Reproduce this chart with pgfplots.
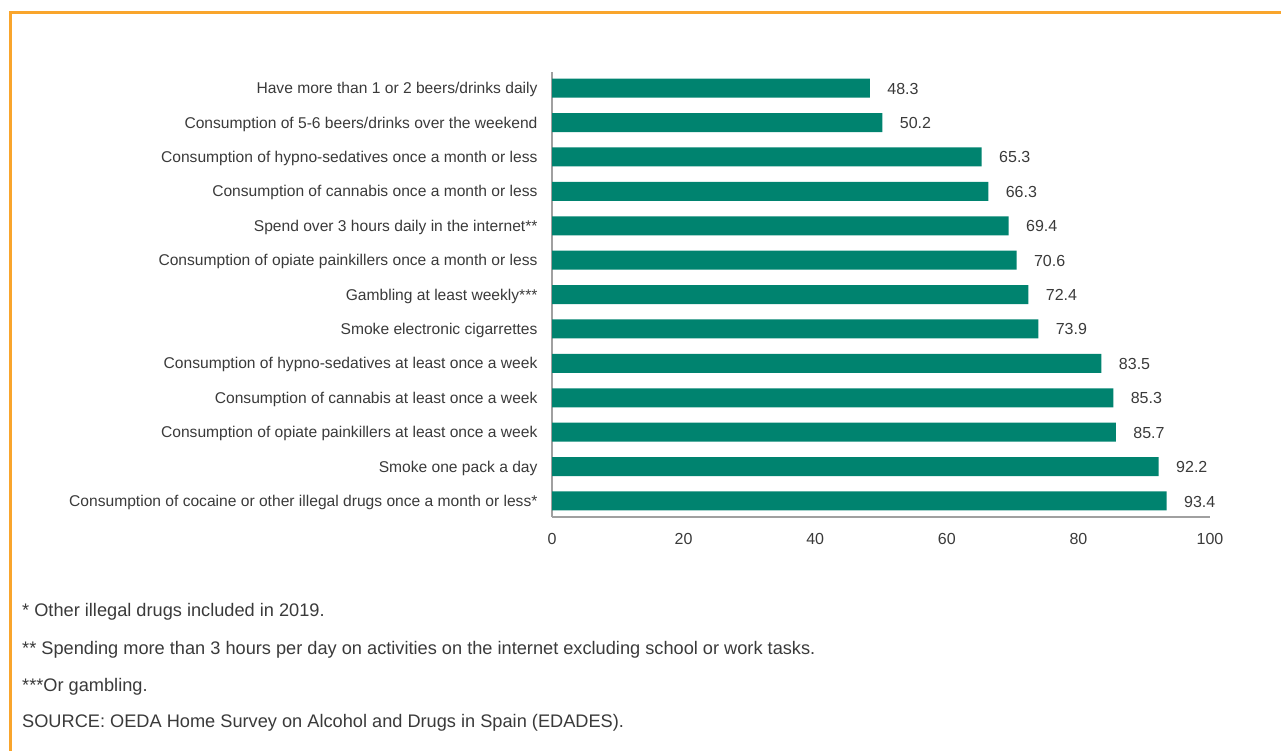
\documentclass[border=0pt]{standalone}
\usepackage{pgfplots}
\pgfplotsset{compat=1.18}
\usepackage{fontspec}
\setmainfont{Liberation Sans}
\definecolor{barteal}{HTML}{00836F}
\definecolor{txt}{HTML}{3A3A3A}
\definecolor{axgrey}{HTML}{A0A0A0}
\definecolor{frameorange}{HTML}{F9A52C}
\begin{document}
\begin{tikzpicture}[x=1pt,y=1pt]
\useasboundingbox (0,0) rectangle (1281,751);
\draw[frameorange, line width=3pt] (10.5,0) -- (10.5,738) -- (1281,738);
\begin{axis}[
  at={(552pt,234pt)}, anchor=south west,
  scale only axis, width=658pt, height=445pt,
  xmin=0, xmax=100, ymin=-0.465, ymax=12.47,
  xbar, bar width=19pt,
  axis x line*=bottom, axis y line*=left,
  axis line style={axgrey, line width=2pt, -},
  xtick={0,20,40,60,80,100},
  ytick={0,...,12},
  yticklabels={
    Consumption of cocaine or other illegal drugs once a month or less*,
    Smoke one pack a day,
    Consumption of opiate painkillers at least once a week,
    Consumption of cannabis at least once a week,
    Consumption of hypno-sedatives at least once a week,
    Smoke electronic cigarrettes,
    Gambling at least weekly***,
    Consumption of opiate painkillers once a month or less,
    Spend over 3 hours daily in the internet**,
    Consumption of cannabis once a month or less,
    Consumption of hypno-sedatives once a month or less,
    Consumption of 5-6 beers/drinks over the weekend,
    Have more than 1 or 2 beers/drinks daily},
  major tick length=0pt,
  tick style={draw=none},
  /pgf/number format/assume math mode=true,
  yticklabel style={font=\fontsize{15.6}{18}\selectfont, text=txt, xshift=-11pt, yshift=-1.5pt},
  xticklabel style={font=\fontsize{16}{18}\selectfont, text=txt, yshift=-12.5pt},
  nodes near coords,
  nodes near coords style={font=\fontsize{16}{18}\selectfont, text=txt, anchor=west, xshift=14pt, yshift=-0.5pt,
    /pgf/number format/.cd, fixed, precision=1, fixed zerofill, assume math mode=true},
]
\addplot[fill=barteal, draw=none] coordinates {
  (93.4,0) (92.2,1) (85.7,2) (85.3,3) (83.5,4) (73.9,5) (72.4,6)
  (70.6,7) (69.4,8) (66.3,9) (65.3,10) (50.2,11) (48.3,12)
};
\end{axis}
\begin{scope}[every node/.style={anchor=base west, inner sep=0pt, text=txt, font=\fontsize{18.2}{20}\selectfont}]
\node at (22,134.5) {* Other illegal drugs included in 2019.};
\node at (22,96.5) {** Spending more than 3 hours per day on activities on the internet excluding school or work tasks.};
\node at (22,59.5) {***Or gambling.};
\node at (22,23.5) {SOURCE: OEDA Home Survey on Alcohol and Drugs in Spain (EDADES).};
\end{scope}
\end{tikzpicture}
\end{document}
